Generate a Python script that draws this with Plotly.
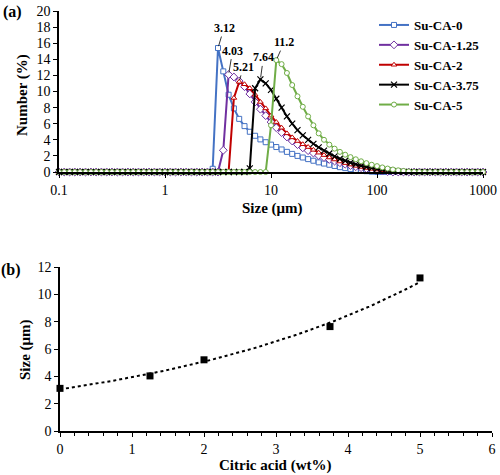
import numpy as np
import plotly.graph_objects as go

# ---------------- data: panel (a) particle size distribution ----------------
size_bins = [
    0.1, 0.112, 0.126, 0.141, 0.158, 0.178, 0.2, 0.224, 0.251, 0.282,
    0.316, 0.355, 0.398, 0.447, 0.501, 0.562, 0.631, 0.708, 0.794, 0.891,
    1.0, 1.122, 1.259, 1.413, 1.585, 1.778, 1.995, 2.239, 2.512, 2.818,
    3.162, 3.548, 3.981, 4.467, 5.012, 5.623, 6.31, 7.079, 7.943, 8.913,
    10.0, 11.22, 12.59, 14.13, 15.85, 17.78, 19.95, 22.39, 25.12, 28.18,
    31.62, 35.48, 39.81, 44.67, 50.12, 56.23, 63.1, 70.79, 79.43, 89.13,
    100, 112.2, 125.9, 141.3, 158.5, 177.8, 199.5, 223.9, 251.2, 281.8,
    316.2, 354.8, 398.1, 446.7, 501.2, 562.3, 631, 707.9, 794.3, 891.3,
    1000,
]

su_ca_0 = [
    0, 0, 0, 0, 0, 0, 0, 0, 0, 0,
    0, 0, 0, 0, 0, 0, 0, 0, 0, 0,
    0, 0, 0, 0, 0, 0, 0, 0, 0, 0.4,
    15.4, 12.5, 9.6, 7.9, 6.6, 5.7, 5.0, 4.5, 4.05, 3.7,
    3.4, 3.1, 2.8, 2.5, 2.25, 2.0, 1.8, 1.6, 1.4, 1.2,
    1.05, 0.9, 0.75, 0.6, 0.48, 0.36, 0.26, 0.17, 0.1, 0.04,
    0, 0, 0, 0, 0, 0, 0, 0, 0, 0,
    0, 0, 0, 0, 0, 0, 0, 0, 0, 0,
    0,
]

su_ca_125 = [
    0, 0, 0, 0, 0, 0, 0, 0, 0, 0,
    0, 0, 0, 0, 0, 0, 0, 0, 0, 0,
    0, 0, 0, 0, 0, 0, 0, 0, 0, 0,
    0, 2.7, 12.1, 11.8, 11.3, 10.6, 9.7, 8.7, 7.8, 7.0,
    6.2, 5.5, 4.9, 4.35, 3.85, 3.4, 3.0, 2.65, 2.35, 2.05,
    1.8, 1.55, 1.35, 1.15, 0.97, 0.8, 0.66, 0.53, 0.41, 0.3,
    0.2, 0.12, 0.05, 0, 0, 0, 0, 0, 0, 0,
    0, 0, 0, 0, 0, 0, 0, 0, 0, 0,
    0,
]

su_ca_2 = [
    0, 0, 0, 0, 0, 0, 0, 0, 0, 0,
    0, 0, 0, 0, 0, 0, 0, 0, 0, 0,
    0, 0, 0, 0, 0, 0, 0, 0, 0, 0,
    0, 0, 0, 9.2, 11.2, 10.9, 10.4, 9.6, 8.7, 7.9,
    7.0, 6.2, 5.5, 4.8, 4.3, 3.85, 3.45, 3.1, 2.75, 2.4,
    2.1, 1.8, 1.55, 1.3, 1.1, 0.92, 0.76, 0.62, 0.5, 0.39,
    0.3, 0.22, 0.15, 0.09, 0.05, 0.02, 0, 0, 0, 0,
    0, 0, 0, 0, 0, 0, 0, 0, 0, 0,
    0,
]

su_ca_375 = [
    0, 0, 0, 0, 0, 0, 0, 0, 0, 0,
    0, 0, 0, 0, 0, 0, 0, 0, 0, 0,
    0, 0, 0, 0, 0, 0, 0, 0, 0, 0,
    0, 0, 0, 0, 0, 0, 0.45, 10.4, 11.5, 11.0,
    10.2, 9.1, 8.0, 6.9, 6.0, 5.2, 4.55, 4.0, 3.5, 3.05,
    2.65, 2.3, 1.95, 1.65, 1.4, 1.15, 0.95, 0.77, 0.62, 0.48,
    0.36, 0.26, 0.17, 0.1, 0.04, 0, 0, 0, 0, 0,
    0, 0, 0, 0, 0, 0, 0, 0, 0, 0,
    0,
]

su_ca_5 = [
    0, 0, 0, 0, 0, 0, 0, 0, 0, 0,
    0, 0, 0, 0, 0, 0, 0, 0, 0, 0,
    0, 0, 0, 0, 0, 0, 0, 0, 0, 0,
    0, 0, 0, 0, 0, 0, 0, 0, 0, 0,
    5.8, 13.9, 13.4, 12.3, 10.8, 9.4, 8.1, 6.9, 5.8, 4.8,
    4.0, 3.4, 2.9, 2.5, 2.15, 1.85, 1.58, 1.33, 1.1, 0.9,
    0.73, 0.57, 0.43, 0.31, 0.21, 0.13, 0.07, 0.02, 0, 0,
    0, 0, 0, 0, 0, 0, 0, 0, 0, 0,
    0,
]

series_names = ["Su-CA-0", "Su-CA-1.25", "Su-CA-2", "Su-CA-3.75", "Su-CA-5"]
x_tick_vals = [0.1, 1, 10, 100, 1000]
x_tick_text = ["0.1", "1", "10", "100", "1000"]

# ---------------- data: panel (b) size vs citric acid ----------------
citric_acid = [0, 1.25, 2, 3.75, 5]
mean_size = [3.12, 4.03, 5.21, 7.64, 11.2]

# ---------------- styling ----------------
FONT = "Liberation Serif"
colors = ["#4472C4", "#7030A0", "#C00000", "#000000", "#70AD47"]
symbols = ["square", "diamond", "triangle-up", "x-thin", "circle"]
all_series = [su_ca_0, su_ca_125, su_ca_2, su_ca_375, su_ca_5]

W, H = 500, 475
def px(x):
    return x / W
def py(y):
    return 1 - y / H

fig = go.Figure()

for name, ys, c, s in zip(series_names, all_series, colors, symbols):
    if s == "x-thin":
        marker = dict(symbol=s, size=6, color=c, line=dict(color=c, width=1.2))
    else:
        marker = dict(symbol=s, size=5 if s != "diamond" else 6, color="white",
                      line=dict(color=c, width=1))
    fig.add_trace(go.Scatter(
        x=size_bins, y=ys, name=name, mode="lines+markers",
        line=dict(color=c, width=2), marker=marker,
        xaxis="x", yaxis="y", cliponaxis=False,
    ))

# peak annotations (values from panel b data)
offsets = [(6, -20), (4, -24), (4, -15), (3, -22), (8, -18)]
for ys, lab, (ax, ay) in zip(all_series, mean_size, offsets):
    i = int(np.argmax(ys))
    fig.add_annotation(
        x=np.log10(size_bins[i]), y=ys[i], xref="x", yref="y",
        text=f"<b>{lab}</b>", showarrow=True, arrowhead=0, arrowwidth=0.8,
        arrowcolor="black", ax=ax, ay=ay, standoff=2,
        font=dict(family=FONT, size=12, color="black"),
    )

# panel (b): points and exponential trendline
fit_b, fit_a = np.polyfit(citric_acid, np.log(mean_size), 1)
trend_x = np.linspace(min(citric_acid), max(citric_acid), 100)
trend_y = np.exp(fit_a + fit_b * trend_x)
fig.add_trace(go.Scatter(
    x=trend_x, y=trend_y, mode="lines", showlegend=False,
    line=dict(color="black", width=2, dash="dot"),
    xaxis="x2", yaxis="y2", hoverinfo="skip",
))
fig.add_trace(go.Scatter(
    x=citric_acid, y=mean_size, mode="markers", showlegend=False,
    marker=dict(symbol="square", size=7, color="black"),
    xaxis="x2", yaxis="y2", cliponaxis=False,
))

tickfont = dict(family=FONT, size=14, color="black")
axis_common = dict(showline=True, linecolor="black", linewidth=1.5,
                   ticks="outside", ticklen=4, tickwidth=1.2, tickcolor="black",
                   showgrid=False, zeroline=False, tickfont=tickfont,
                   automargin=False)

fig.update_layout(
    width=W, height=H, autosize=False,
    margin=dict(l=0, r=0, t=0, b=0, autoexpand=False),
    paper_bgcolor="white", plot_bgcolor="white",
    font=dict(family=FONT, color="black"),
    xaxis=dict(type="log", range=[-1, 3], domain=[px(59), px(483)],
               tickvals=x_tick_vals, ticktext=x_tick_text, anchor="y",
               **axis_common),
    yaxis=dict(range=[0, 20], dtick=2, domain=[py(172), py(11)],
               anchor="x", **axis_common),
    xaxis2=dict(range=[0, 6], dtick=1, domain=[px(60), px(492)], anchor="y2",
                minor=dict(dtick=0.2, ticks="outside", ticklen=3,
                           tickcolor="black", tickwidth=1),
                **axis_common),
    yaxis2=dict(range=[0, 12], dtick=2, domain=[py(431), py(267)],
                anchor="x2", **axis_common),
    legend=dict(x=px(374), y=py(10), xanchor="left", yanchor="top",
                bgcolor="rgba(0,0,0,0)",
                font=dict(family=FONT, size=13, color="black", weight="bold")),
)

texts = [
    ("<b>(a)</b>", 12, 12, 0, 16),
    ("<b>(b)</b>", 11, 270, 0, 16),
    ("<b>Size (μm)</b>", 272, 208, 0, 15),
    ("<b>Number (%)</b>", 23, 95, -90, 15),
    ("<b>Size (μm)</b>", 25, 350, -90, 15),
    ("<b>Citric acid (wt%)</b>", 275, 465, 0, 15),
]
for t, x, y, ang, sz in texts:
    fig.add_annotation(text=t, x=px(x), y=py(y), xref="paper", yref="paper",
                       showarrow=False, textangle=ang, xanchor="center",
                       yanchor="middle",
                       font=dict(family=FONT, size=sz, color="black"))

fig.write_html(
    "out.html",
    config={"displayModeBar": False},
    post_script="document.body.style.margin='0';document.body.style.padding='0';"
                "document.documentElement.style.overflow='hidden';",
)
